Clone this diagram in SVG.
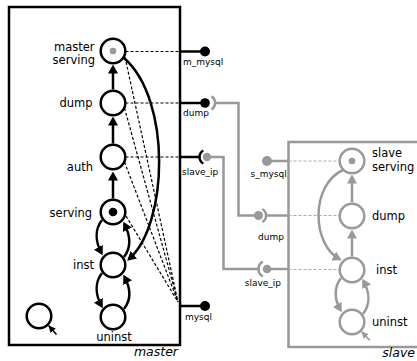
<svg xmlns="http://www.w3.org/2000/svg" width="417" height="361" viewBox="0 0 417 361">
<defs>
<marker id="ab" markerUnits="userSpaceOnUse" viewBox="0 0 9 10" markerWidth="9" markerHeight="10" refX="6.5" refY="5" orient="auto"><path d="M0,0 L9,5 L0,10 z" fill="#000"/></marker>
<marker id="ag" markerUnits="userSpaceOnUse" viewBox="0 0 9 10" markerWidth="9" markerHeight="10" refX="6.5" refY="5" orient="auto"><path d="M0,0 L9,5 L0,10 z" fill="#999"/></marker>
<marker id="ib" markerUnits="userSpaceOnUse" viewBox="0 0 7 7" markerWidth="7" markerHeight="7" refX="7" refY="3.5" orient="auto"><path d="M0,0 L7,3.5 L0,7 z" fill="#000"/></marker>
<marker id="ig" markerUnits="userSpaceOnUse" viewBox="0 0 7 7" markerWidth="7" markerHeight="7" refX="7" refY="3.5" orient="auto"><path d="M0,0 L7,3.5 L0,7 z" fill="#999"/></marker>
</defs>
<style>
.box{fill:#fff;stroke:#000;stroke-width:2.5}
.boxg{fill:#fff;stroke:#999;stroke-width:2.5}
.st{fill:#fff;stroke:#000;stroke-width:2.5}
.sg{fill:#fff;stroke:#999;stroke-width:2.5}
.tr{fill:none;stroke:#000;stroke-width:2.5}
.trg{fill:none;stroke:#999;stroke-width:2.5}
.dot{fill:none;stroke:#000;stroke-width:1.2;stroke-dasharray:3 2}
.dotg{fill:none;stroke:#aaa;stroke-width:1;stroke-dasharray:3 2}
.pl{fill:none;stroke:#000;stroke-width:2.5}
.plg{fill:none;stroke:#999;stroke-width:2.5}
.t{font-family:"DejaVu Sans",sans-serif;font-size:11.5px;fill:#000}
.p{font-family:"DejaVu Sans",sans-serif;font-size:9px;fill:#000}
.bl{font-family:"DejaVu Sans",sans-serif;font-size:12.5px;font-style:italic;fill:#000}
</style>

<g id="master">
<rect class="box" x="9" y="7" width="171" height="338"/>
<text class="bl" x="178" y="356" text-anchor="end">master</text>
</g>
<g id="slave">
<rect class="boxg" x="288.5" y="142" width="140" height="205"/>
<text class="bl" x="415" y="357" text-anchor="end">slave</text>
</g>

<g id="connectors">
<path class="dot" d="M125.5,51.5 H180 M125.5,103 H180 M125.5,157 H180"/>
<path class="dot" d="M125,57 L178,302 M124.5,108 L178,302 M124.5,162 L178,302 M126,216 L178,302"/>
<path class="dotg" d="M288.5,161 H339.5 M288.5,215.5 H339.5 M288.5,269.5 H339.5"/>
<path class="plg" d="M215,103 H238.5 V215.5 H256"/>
<path class="plg" d="M211,157 H223.5 V269 H258.5"/>
<path class="tr" d="M113,89.5 L113,67" marker-end="url(#ab)"/>
<path class="tr" d="M113,143.5 L113,119" marker-end="url(#ab)"/>
<path class="tr" d="M113,198.5 L113,174" marker-end="url(#ab)"/>
<path class="tr" d="M102,220 C95,229 95,241 101.5,253" marker-end="url(#ab)"/>
<path class="tr" d="M124,257 C131,248 131,237 124.5,224" marker-end="url(#ab)"/>
<path class="tr" d="M102,273 C95,282 95,294 101.5,306" marker-end="url(#ab)"/>
<path class="tr" d="M124,309 C131,300 131,289 124.5,277" marker-end="url(#ab)"/>
<path class="tr" d="M124,58 C172,100 168,225 129,259" marker-end="url(#ab)"/>
<path fill="none" stroke="#000" stroke-width="1.6" d="M56.5,334.5 L48.5,325.5" marker-end="url(#ib)"/>
<path class="trg" d="M352,202.5 L352,177" marker-end="url(#ag)"/>
<path class="trg" d="M352,256.5 L352,232" marker-end="url(#ag)"/>
<path class="trg" d="M343,170 C310,185 312,245 339.5,259" marker-end="url(#ag)"/>
<path class="trg" d="M341,278 C334,287 334,299 340.5,310" marker-end="url(#ag)"/>
<path class="trg" d="M363,314 C370,305 370,293 363.5,281" marker-end="url(#ag)"/>
<path fill="none" stroke="#999" stroke-width="1.6" d="M370,340.5 L361.5,331.5" marker-end="url(#ig)"/>
</g>

<g id="master-serving">
<circle class="st" cx="113" cy="51" r="12.3"/>
<circle cx="113" cy="51" r="3.3" fill="#999"/>
<text class="t" x="94.5" y="50.5" text-anchor="end">master</text>
<text class="t" x="95" y="64" text-anchor="end">serving</text>
</g>
<g id="master-dump">
<circle class="st" cx="113" cy="103" r="12.3"/>
<text class="t" x="92.5" y="107" text-anchor="end">dump</text>
</g>
<g id="master-auth">
<circle class="st" cx="113" cy="157" r="12.3"/>
<text class="t" x="93" y="170.5" text-anchor="end">auth</text>
</g>
<g id="master-serving-state">
<circle class="st" cx="113" cy="212" r="12.3"/>
<circle cx="113" cy="212" r="4.3" fill="#000"/>
<text class="t" x="92" y="216.5" text-anchor="end">serving</text>
</g>
<g id="master-inst">
<circle class="st" cx="113" cy="265" r="12.3"/>
<text class="t" x="94" y="269" text-anchor="end">inst</text>
</g>
<g id="master-uninst">
<circle class="st" cx="113" cy="317" r="12.3"/>
<text class="t" x="114" y="341" text-anchor="middle">uninst</text>
</g>
<g id="legend-state">
<circle class="st" cx="39" cy="316" r="12.3"/>
</g>

<g id="port-m_mysql">
<path class="pl" d="M180,51.5 H205"/>
<circle cx="205" cy="51.5" r="5" fill="#000"/>
<text class="p" x="183" y="64.5">m_mysql</text>
</g>
<g id="port-dump-master">
<path class="pl" d="M180,103 H205"/>
<circle cx="205" cy="103" r="4.8" fill="#000"/>
<path class="plg" d="M211.6,96.4 A8,8 0 0 1 211.6,109.6"/>
<text class="p" x="183" y="116">dump</text>
</g>
<g id="port-slave_ip-master">
<path class="pl" d="M180,157 H199.5"/>
<path class="pl" d="M203.3,150.5 A7.5,7.5 0 0 0 203.3,163.5"/>
<circle cx="207" cy="157" r="4.2" fill="#999"/>
<text class="p" x="182" y="175">slave_ip</text>
</g>
<g id="port-mysql">
<path class="pl" d="M180,306 H205"/>
<circle cx="205" cy="306" r="5" fill="#000"/>
<text class="p" x="185" y="320">mysql</text>
</g>

<g id="port-s_mysql">
<path class="plg" d="M267,161 H288.5"/>
<circle cx="267" cy="161" r="5" fill="#999"/>
<text class="p" x="250.5" y="177">s_mysql</text>
</g>
<g id="port-dump-slave">
<path class="plg" d="M266,215.5 H288.5"/>
<circle cx="258.5" cy="215.5" r="4.5" fill="#999"/>
<path class="plg" d="M262.3,209 A7.5,7.5 0 0 1 262.3,222"/>
<text class="p" x="258" y="240">dump</text>
</g>
<g id="port-slave_ip-slave">
<path class="plg" d="M267,269 H288.5"/>
<path class="plg" d="M262.8,261.6 A8.5,8.5 0 0 0 262.8,276.4"/>
<circle cx="267" cy="269" r="4.3" fill="#999"/>
<text class="p" x="244.7" y="286">slave_ip</text>
</g>

<g id="slave-serving">
<circle class="sg" cx="352" cy="161" r="12.3"/>
<circle cx="352" cy="161" r="3.3" fill="#999"/>
<text class="t" x="372" y="157">slave</text>
<text class="t" x="372" y="170.5">serving</text>
</g>
<g id="slave-dump">
<circle class="sg" cx="352" cy="216" r="12.3"/>
<text class="t" x="372" y="220">dump</text>
</g>
<g id="slave-inst">
<circle class="sg" cx="352" cy="270" r="12.3"/>
<text class="t" x="376" y="274">inst</text>
</g>
<g id="slave-uninst">
<circle class="sg" cx="352" cy="322" r="12.3"/>
<text class="t" x="372" y="326">uninst</text>
</g>
</svg>
